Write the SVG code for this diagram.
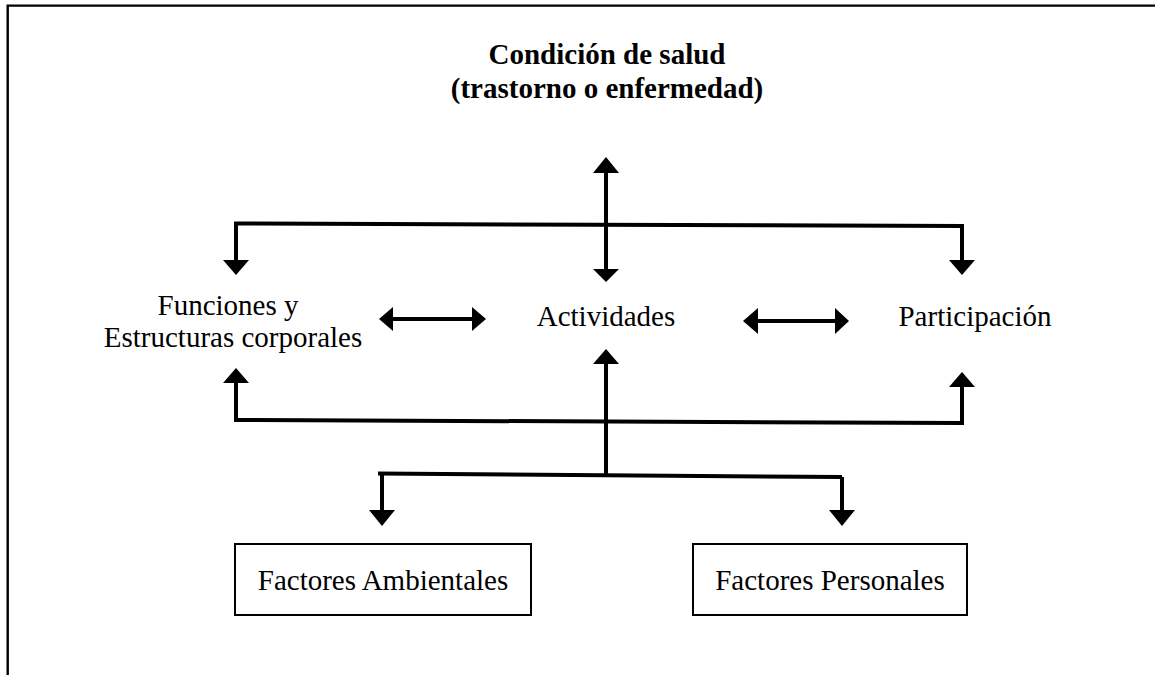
<svg xmlns="http://www.w3.org/2000/svg" width="1155" height="675" viewBox="0 0 1155 675">
<style>
.t{font-family:"Liberation Serif","Times New Roman",serif;font-size:29px;fill:#000}
.b{font-weight:bold}
.ln{fill:none;stroke:#000;stroke-width:4}
.hd{fill:#000}
.box{fill:#fff;stroke:#000;stroke-width:2}
.frame{fill:none;stroke:#000;stroke-width:2.4}
</style>
<rect width="1155" height="675" fill="#fff"/>
<path class="frame" d="M7.7,675 V5.6 H1155"/>
<g id="title">
<text class="t b" x="607" y="64" text-anchor="middle">Condición de salud</text>
<text class="t b" x="607" y="98" text-anchor="middle">(trastorno o enfermedad)</text>
</g>
<g id="funciones">
<text class="t" x="228" y="315" text-anchor="middle">Funciones y</text>
<text class="t" x="233" y="347" text-anchor="middle">Estructuras corporales</text>
</g>
<g id="actividades">
<text class="t" x="606" y="326" text-anchor="middle">Actividades</text>
</g>
<g id="participacion">
<text class="t" x="975" y="326" text-anchor="middle">Participación</text>
</g>
<g id="ambientales">
<rect class="box" x="235" y="544" width="296" height="71"/>
<text class="t" x="383" y="590" text-anchor="middle">Factores Ambientales</text>
</g>
<g id="personales">
<rect class="box" x="693" y="544" width="274" height="71"/>
<text class="t" x="830" y="590" text-anchor="middle">Factores Personales</text>
</g>
<g id="connectors">
<path class="ln" d="M606,171 V270"/>
<polygon class="hd" points="606,157 593,173 619,173"/>
<polygon class="hd" points="606,282 593,269 619,269"/>
<path class="ln" d="M236,262 V223.5 L962,226 V262"/>
<polygon class="hd" points="236,275 223,260 249,260"/>
<polygon class="hd" points="962,275 949,260 975,260"/>
<path class="ln" d="M392,319 H472"/>
<polygon class="hd" points="379,319 393,307 393,331"/>
<polygon class="hd" points="486,319 472,307 472,331"/>
<path class="ln" d="M757,321 H836"/>
<polygon class="hd" points="743,321 758,308 758,334"/>
<polygon class="hd" points="849,321 835,308 835,334"/>
<path class="ln" d="M236,382 V420 L962,423 V386"/>
<polygon class="hd" points="236,368 223,383 249,383"/>
<polygon class="hd" points="962,372 949,387 975,387"/>
<path class="ln" d="M606,362 V475"/>
<polygon class="hd" points="606,349 593,364 619,364"/>
<path class="ln" d="M378,473.5 L842,477"/>
<path class="ln" d="M382,473.5 V512"/>
<polygon class="hd" points="382,526 369,510 395,510"/>
<path class="ln" d="M842,477 V512"/>
<polygon class="hd" points="842,526 829,510 855,510"/>
</g>
</svg>
